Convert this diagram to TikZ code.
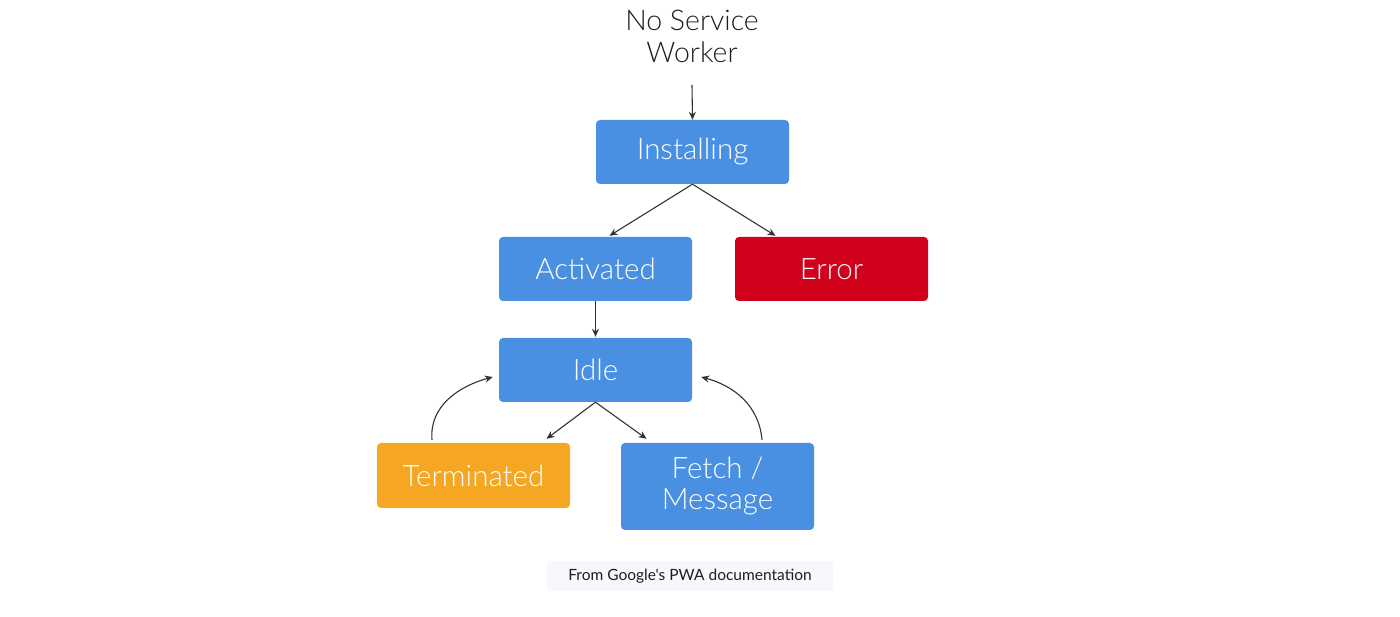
\documentclass[tikz,border=0pt]{standalone}
\usepackage{fontspec}
\setmainfont{Lato}
\newfontfamily\lightfont{Lato Light}
\newfontfamily\notefont{Lato}[Ligatures=TeXOff]
\usetikzlibrary{arrows.meta}
\definecolor{stateblue}{HTML}{4A90E2}
\definecolor{statered}{HTML}{D0021B}
\definecolor{stateorange}{HTML}{F5A623}
\definecolor{linkgray}{HTML}{333333}
\definecolor{inkgray}{HTML}{1E1E1E}
\definecolor{notefill}{HTML}{F6F8FB}
\begin{document}
\begin{tikzpicture}[x=1pt,y=1pt,
  state/.style={rectangle, rounded corners=4pt, minimum width=193pt,
    minimum height=64pt, inner sep=0pt, align=center, text=white,
    font=\lightfont\fontsize{29.5}{31}\selectfont},
  flow/.style={draw=linkgray, line width=1.1pt,
    -{Stealth[length=8pt,width=7pt]}}]
\useasboundingbox (0,0) rectangle (1400,617);

% start label
\node[align=center, text=inkgray, font=\lightfont\fontsize{28.5}{32}\selectfont]
  (start) at (692,581) {No Service\\Worker};
\coordinate (startout) at (692,532);

% states
\node[state, fill=stateblue] (inst) at (692.5,465) {Installing};
\node[state, fill=stateblue] (act) at (595.5,348) {Activated};
\node[state, fill=statered] (err) at (831.5,348) {Error};
\node[state, fill=stateblue] (idle) at (595.5,247) {Idle};
\node[state, fill=stateorange, minimum height=65pt] (term) at (473.5,141.5) {Terminated};
\node[state, fill=stateblue, minimum height=87pt] (fetch) at (717.5,130.5) {Fetch /\\Message};

% caption
\node[fill=notefill, rounded corners=3pt, minimum width=286pt, minimum height=30pt,
  inner sep=0pt, text=inkgray, font=\notefont\fontsize{15.5}{17}\selectfont]
  (note) at (690,41) {From Google's PWA documentation};

% transitions
\draw[flow] (startout) -- (inst.north);
\draw[flow] (inst.south) -- ([xshift=14pt,yshift=1pt]act.north);
\draw[flow] (inst.south) -- ([xshift=-56pt,yshift=1pt]err.north);
\draw[flow] (act.south) -- ([yshift=1pt]idle.north);
\draw[flow] (idle.south) -- ([xshift=73pt,yshift=4pt]term.north);
\draw[flow] (idle.south) -- ([xshift=-71pt,yshift=4pt]fetch.north);
\draw[flow] ([xshift=-41.5pt,yshift=3pt]term.north)
  to[out=95,in=195] ([xshift=-6pt,yshift=-7pt]idle.west);
\draw[flow] ([xshift=44.5pt,yshift=3pt]fetch.north)
  to[out=95,in=-15] ([xshift=9pt,yshift=-7pt]idle.east);
\end{tikzpicture}
\end{document}
